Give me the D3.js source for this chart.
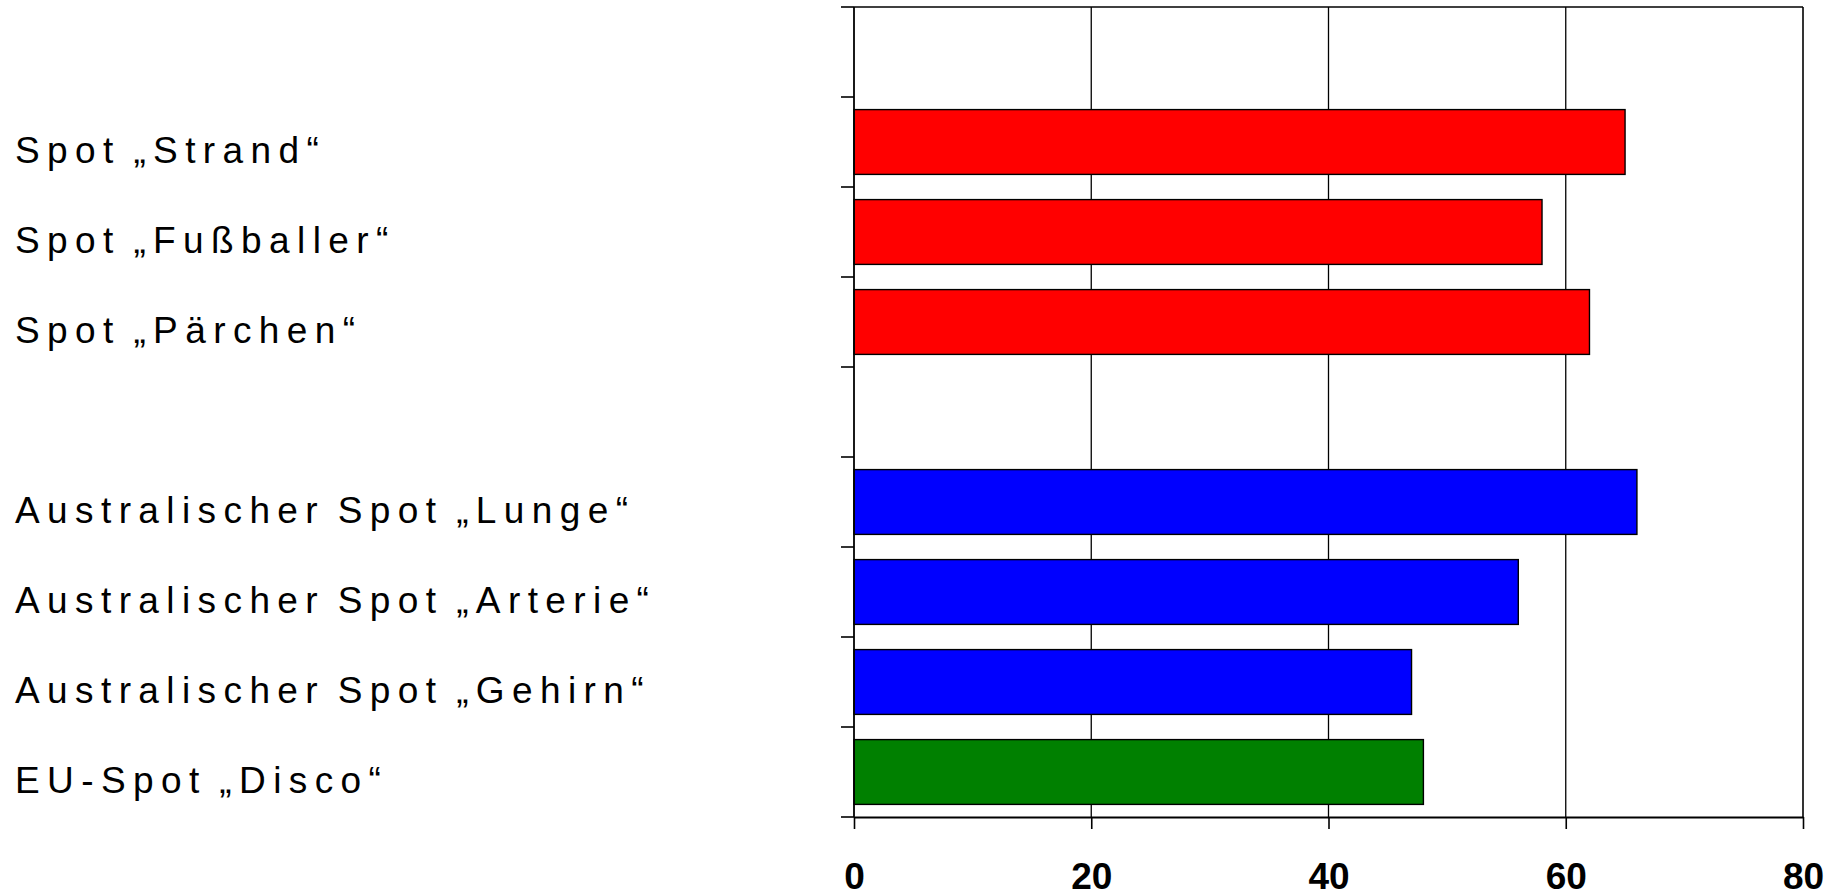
<!DOCTYPE html>
<html lang="de">
<head>
<meta charset="utf-8">
<title>Spots</title>
<script src="https://cdn.jsdelivr.net/npm/d3@7"></script>
<style>
  html, body { margin: 0; padding: 0; background: #fff; }
  svg { display: block; }
</style>
</head>
<body>
<div id="chart"></div>
<script>
// Rows of the chart, top to bottom; "leer" rows are empty spacer slots.
const categories = [
  "leer-oben",
  "Spot „Strand“",
  "Spot „Fußballer“",
  "Spot „Pärchen“",
  "leer-mitte",
  "Australischer Spot „Lunge“",
  "Australischer Spot „Arterie“",
  "Australischer Spot „Gehirn“",
  "EU-Spot „Disco“"
];
const values = [null, 65, 58, 62, null, 66, 56, 47, 48];
const groups = [null, "national", "national", "national", null, "australien", "australien", "australien", "eu"];
const groupColors = { national: "#ff0000", australien: "#0000ff", eu: "#008000" };
const xTicks = [0, 20, 40, 60, 80];

const width = 1830, height = 894;
const margin = { top: 7, right: 27, bottom: 77, left: 854 };

const svg = d3.select("#chart").append("svg")
  .attr("width", width).attr("height", height)
  .attr("viewBox", [0, 0, width, height]);

const x = d3.scaleLinear().domain([0, 80]).range([margin.left, width - margin.right]);
const y = d3.scaleBand().domain(categories)
  .range([margin.top, height - margin.bottom])
  .paddingInner(0.28).paddingOuter(0.14);

const rows = categories.map((c, i) => ({ cat: c, value: values[i], group: groups[i] }));

// vertical gridlines
svg.append("g")
  .selectAll("line").data(xTicks.slice(1, -1)).join("line")
  .attr("x1", d => x(d)).attr("x2", d => x(d))
  .attr("y1", margin.top).attr("y2", height - margin.bottom)
  .attr("stroke", "#000").attr("stroke-width", 1.3);

// bars
svg.append("g")
  .selectAll("rect").data(rows.filter(r => r.value !== null)).join("rect")
  .attr("x", x(0))
  .attr("y", d => y(d.cat))
  .attr("width", d => x(d.value) - x(0))
  .attr("height", y.bandwidth())
  .attr("fill", d => groupColors[d.group])
  .attr("stroke", "#000").attr("stroke-width", 1.4);

// frame: top and right border
svg.append("line")
  .attr("x1", x(0)).attr("x2", x(80))
  .attr("y1", margin.top).attr("y2", margin.top)
  .attr("stroke", "#000").attr("stroke-width", 1.6);
svg.append("line")
  .attr("x1", x(80)).attr("x2", x(80))
  .attr("y1", margin.top).attr("y2", height - margin.bottom)
  .attr("stroke", "#000").attr("stroke-width", 1.6);

// bottom axis with ticks extending below
const xAxis = svg.append("g")
  .attr("transform", `translate(0,${height - margin.bottom})`)
  .call(d3.axisBottom(x).tickValues(xTicks).tickSize(12).tickSizeOuter(0).tickPadding(34));
xAxis.select(".domain").attr("stroke", "#000").attr("stroke-width", 1.8);
xAxis.selectAll(".tick line").attr("stroke", "#000").attr("stroke-width", 1.6);
xAxis.selectAll(".tick text")
  .attr("fill", "#000")
  .style("font-family", "'Liberation Sans', Arial, sans-serif")
  .style("font-size", "37px")
  .style("font-weight", "bold");

// left axis: ticks at band boundaries
const boundaries = categories.map(c => y(c) - y.step() * y.paddingInner() / 2)
  .concat([height - margin.bottom]);
const yAxisG = svg.append("g");
yAxisG.append("line")
  .attr("x1", x(0)).attr("x2", x(0))
  .attr("y1", margin.top).attr("y2", height - margin.bottom)
  .attr("stroke", "#000").attr("stroke-width", 1.8);
yAxisG.selectAll("line.tick").data(boundaries).join("line")
  .attr("class", "tick")
  .attr("x1", x(0) - 13).attr("x2", x(0))
  .attr("y1", d => d).attr("y2", d => d)
  .attr("stroke", "#000").attr("stroke-width", 1.6);

// category labels at the left edge
svg.append("g")
  .selectAll("text").data(rows.filter(r => r.value !== null)).join("text")
  .attr("x", 15)
  .attr("y", d => y(d.cat) + y.bandwidth() / 2 + 20.5)
  .attr("fill", "#000")
  .style("font-family", "'Liberation Sans', Arial, sans-serif")
  .style("font-size", "37px")
  .style("letter-spacing", "7.4px")
  .style("word-spacing", "-5px")
  .text(d => d.cat);
</script>
</body>
</html>
